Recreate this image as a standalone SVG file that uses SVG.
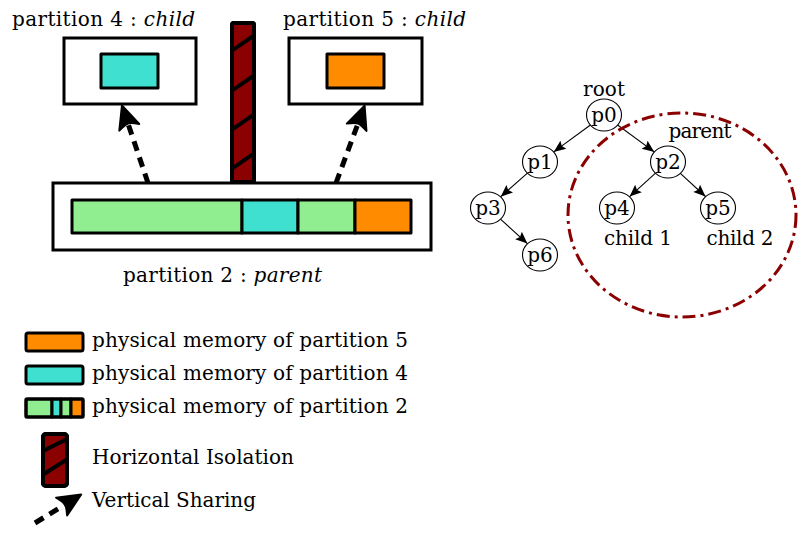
<svg xmlns="http://www.w3.org/2000/svg" width="809" height="537" viewBox="0 0 809 537">
<style>
text{font-family:"DejaVu Serif","Liberation Serif",serif;fill:#000}
.lbl{font-size:20px}
.nd{font-size:20px;text-anchor:middle}
.box{fill:#fff;stroke:#000;stroke-width:3}
.mem{stroke:#000;stroke-width:3;stroke-linejoin:round}
.green{fill:#90EE90}.cyan{fill:#40E0D0}.orange{fill:#FF8C00}
.pillar{fill:#8B0000;stroke:#000;stroke-width:4}
.stripe{stroke:#000;stroke-width:4}
.share{stroke:#000;stroke-width:5;stroke-dasharray:10 7;fill:none}
.edge{stroke:#000;stroke-width:1.1;fill:none}
.node{fill:#fff;stroke:#000;stroke-width:1.1}
</style>
<defs>
<marker id="big" markerUnits="userSpaceOnUse" markerWidth="40" markerHeight="40" refX="0" refY="0" viewBox="-10 -15 40 30" orient="auto" overflow="visible">
<path d="M19,0 L-4,-10.5 Q0,-3 0,0 Q0,3 -4,10.5 Z" fill="#000" stroke="#000" stroke-width="2" stroke-linejoin="round"/>
</marker>
<marker id="sm" markerUnits="userSpaceOnUse" markerWidth="20" markerHeight="20" refX="0" refY="0" viewBox="-14 -7 20 14" orient="auto" overflow="visible">
<path d="M0,0 L-12,-5 L-10,0 L-12,5 Z" fill="#000"/>
</marker>
<clipPath id="pc"><rect x="232" y="23" width="22" height="159" rx="2"/></clipPath>
<clipPath id="lpc"><rect x="43" y="434" width="24" height="52" rx="2"/></clipPath>
</defs>

<g id="connectors">
<line class="share" x1="148" y1="183" x2="128" y2="123.5" marker-end="url(#big)"/>
<line class="share" x1="336" y1="183" x2="358" y2="123.5" marker-end="url(#big)"/>
<line class="edge" x1="591.1" y1="124.5" x2="553.7" y2="151.9" marker-end="url(#sm)"/>
<line class="edge" x1="616.9" y1="124.5" x2="654.3" y2="151.9" marker-end="url(#sm)"/>
<line class="edge" x1="528" y1="172.6" x2="500.7" y2="196.7" marker-end="url(#sm)"/>
<line class="edge" x1="499.9" y1="218.7" x2="527.4" y2="243.6" marker-end="url(#sm)"/>
<line class="edge" x1="656.1" y1="172.7" x2="629.6" y2="196.6" marker-end="url(#sm)"/>
<line class="edge" x1="679.8" y1="172.8" x2="705.5" y2="196.5" marker-end="url(#sm)"/>
</g>

<g id="partition4">
<rect class="box" x="64" y="38" width="132" height="66"/>
<rect class="mem cyan" x="101" y="54" width="57" height="34"/>
<text class="lbl" x="12" y="26" textLength="183">partition 4 : <tspan font-style="italic">child</tspan></text>
</g>

<g id="partition5">
<rect class="box" x="289" y="38" width="133" height="66"/>
<rect class="mem orange" x="327" y="54" width="57" height="34"/>
<text class="lbl" x="283" y="26" textLength="183">partition 5 : <tspan font-style="italic">child</tspan></text>
</g>

<g id="isolation">
<rect class="pillar" x="232" y="23" width="22" height="159" rx="2"/>
<g clip-path="url(#pc)">
<line class="stripe" x1="230" y1="52" x2="256" y2="34"/>
<line class="stripe" x1="230" y1="92" x2="256" y2="74"/>
<line class="stripe" x1="230" y1="131" x2="256" y2="113"/>
<line class="stripe" x1="230" y1="170" x2="256" y2="152"/>
</g>
<rect x="232" y="23" width="22" height="159" rx="2" fill="none" stroke="#000" stroke-width="4"/>
</g>

<g id="partition2">
<rect class="box" x="53" y="183" width="378" height="67"/>
<rect class="mem green" x="72" y="200" width="170" height="33"/>
<rect class="mem cyan" x="242" y="200" width="56" height="33"/>
<rect class="mem green" x="298" y="200" width="57" height="33"/>
<rect class="mem orange" x="355" y="200" width="56" height="33"/>
<text class="lbl" x="123" y="282" textLength="199">partition 2 : <tspan font-style="italic">parent</tspan></text>
</g>

<g id="tree">
<ellipse cx="682" cy="215" rx="114" ry="102" fill="none" stroke="#8B0000" stroke-width="3" stroke-dasharray="13 5 3 5"/>
<text class="nd" x="604" y="96" textLength="42">root</text>
<text class="nd" x="700" y="138" textLength="63">parent</text>
<g id="p0"><ellipse class="node" cx="604" cy="115" rx="17.5" ry="16"/><text class="nd" x="604" y="122">p0</text></g>
<g id="p1"><ellipse class="node" cx="540" cy="162" rx="17.5" ry="16"/><text class="nd" x="540" y="169">p1</text></g>
<g id="p2"><ellipse class="node" cx="668" cy="162" rx="17.5" ry="16"/><text class="nd" x="668" y="169">p2</text></g>
<g id="p3"><ellipse class="node" cx="488" cy="208" rx="17.5" ry="16"/><text class="nd" x="488" y="215">p3</text></g>
<g id="p4"><ellipse class="node" cx="617" cy="208" rx="17.5" ry="16"/><text class="nd" x="617" y="215">p4</text></g>
<g id="p5"><ellipse class="node" cx="718" cy="208" rx="17.5" ry="16"/><text class="nd" x="718" y="215">p5</text></g>
<g id="p6"><ellipse class="node" cx="540" cy="255" rx="17.5" ry="16"/><text class="nd" x="540" y="262">p6</text></g>
<text class="nd" x="638" y="245" textLength="68">child 1</text>
<text class="nd" x="740" y="245" textLength="67">child 2</text>
</g>

<g id="legend">
<rect class="mem orange" x="26" y="333" width="57" height="18" rx="2"/>
<text class="lbl" x="92" y="347" textLength="316">physical memory of partition 5</text>
<rect class="mem cyan" x="26" y="366" width="57" height="18" rx="2"/>
<text class="lbl" x="92" y="380" textLength="316">physical memory of partition 4</text>
<rect class="mem green" x="26" y="399" width="26" height="18"/>
<rect class="mem cyan" x="52" y="399" width="9" height="18"/>
<rect class="mem green" x="61" y="399" width="10" height="18"/>
<rect class="mem orange" x="71" y="399" width="12" height="18"/>
<rect x="26" y="399" width="57" height="18" rx="2" fill="none" stroke="#000" stroke-width="3"/>
<text class="lbl" x="92" y="413" textLength="316">physical memory of partition 2</text>
<rect class="pillar" x="43" y="434" width="24" height="52" rx="3"/>
<g clip-path="url(#lpc)">
<line class="stripe" x1="41" y1="452" x2="69" y2="438"/>
<line class="stripe" x1="41" y1="476" x2="69" y2="458"/>
</g>
<rect x="43" y="434" width="24" height="52" rx="3" fill="none" stroke="#000" stroke-width="4"/>
<text class="lbl" x="92" y="464" textLength="202">Horizontal Isolation</text>
<line class="share" x1="35" y1="523" x2="65" y2="504.5" marker-end="url(#big)"/>
<text class="lbl" x="92" y="507" textLength="164">Vertical Sharing</text>
</g>
</svg>
